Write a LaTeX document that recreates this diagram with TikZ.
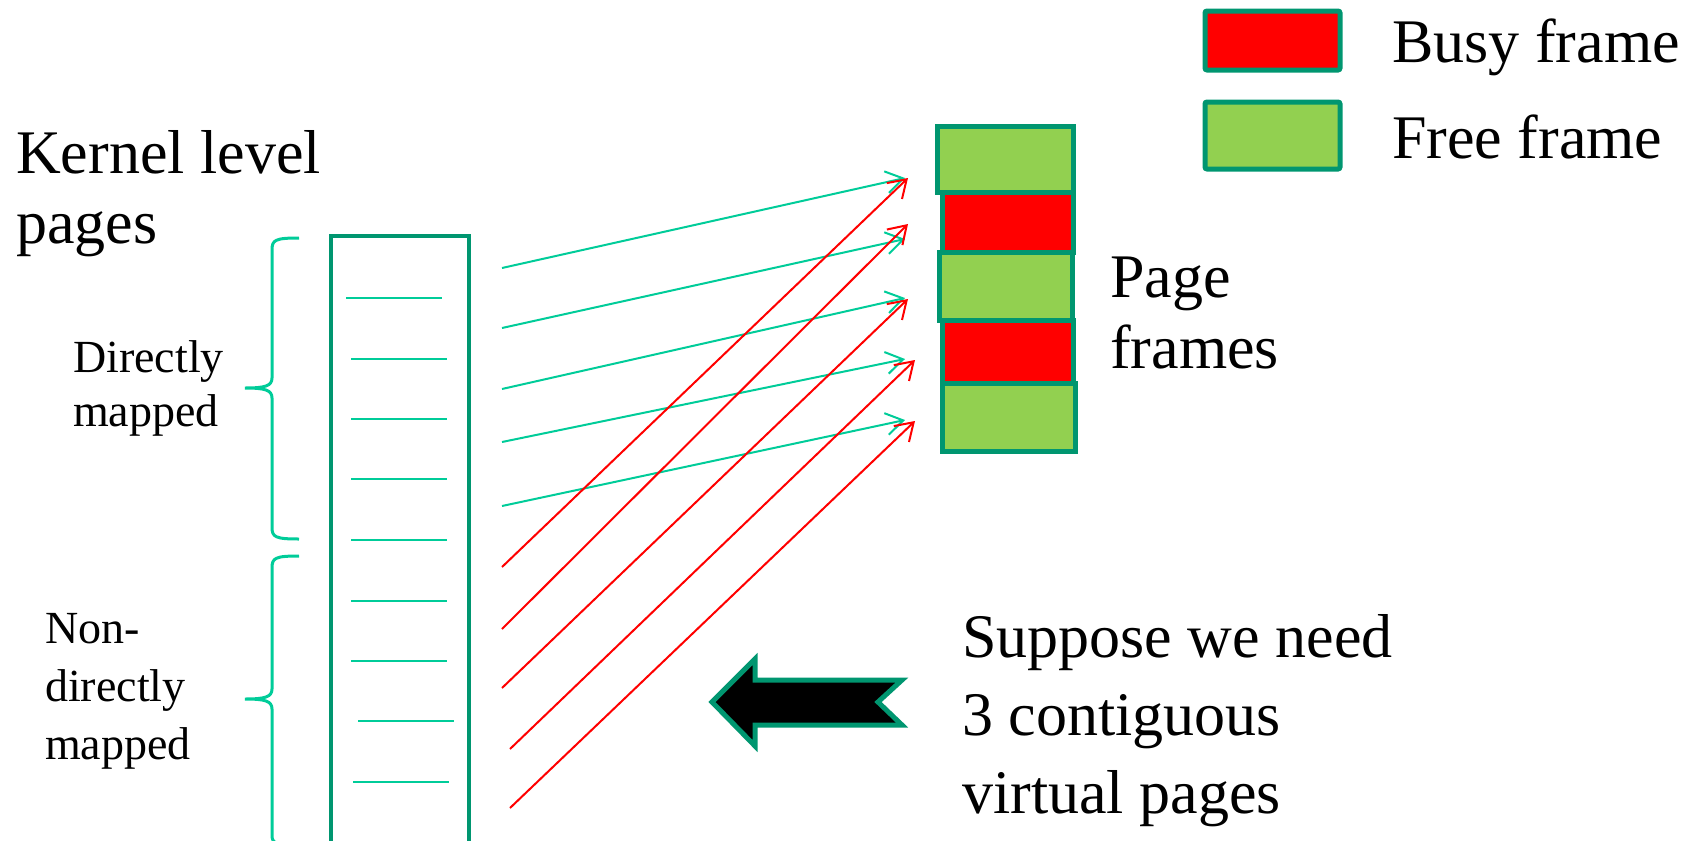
\documentclass[tikz,border=0pt]{standalone}
\usepackage{fontspec}
\setmainfont{Liberation Serif}
\usetikzlibrary{arrows.meta,positioning}
\definecolor{frameborder}{RGB}{0,150,112}
\definecolor{freegreen}{RGB}{146,208,80}
\definecolor{mapteal}{RGB}{0,204,153}
\tikzstyle{pframe} = [rectangle, draw=frameborder, line width=5pt, inner sep=0pt]
\tikzstyle{busy} = [pframe, fill=red]
\tikzstyle{free} = [pframe, fill=freegreen]
\tikzstyle{bigtext} = [anchor=base west, inner sep=0pt, align=left,
    font=\fontsize{62}{70}\selectfont]
\tikzstyle{smalltext} = [anchor=base west, inner sep=0pt, align=left,
    font=\fontsize{46}{58}\selectfont]
\tikzstyle{directmap} = [-{Straight Barb[length=17pt,width=22pt]}, mapteal,
    line width=2pt]
\tikzstyle{othermap} = [-{Straight Barb[length=17pt,width=22pt]}, red,
    line width=2pt]
\tikzstyle{brace} = [mapteal, line width=3pt]
\tikzstyle{slot} = [mapteal, line width=2pt]

\begin{document}
\begin{tikzpicture}[x=1pt, y=-1pt]
  \useasboundingbox (0,0) rectangle (1701,841);
  % Place nodes
  \node [free, minimum width=136pt, minimum height=66pt] (pf1) at (1005,159) {};
  \node [busy, minimum width=131pt, minimum height=60pt] (pf2) at (1007.5,222) {};
  \node [free, minimum width=133pt, minimum height=68pt] (pf3) at (1005.5,286) {};
  \node [busy, minimum width=131pt, minimum height=63pt] (pf4) at (1007.5,351.5) {};
  \node [free, minimum width=133pt, minimum height=68pt] (pf5) at (1008.5,417) {};
  \node [draw=frameborder, line width=4pt, minimum width=138pt,
  minimum height=624pt] (kpages) at (400,548) {};
  % legend
  \node [busy, rounded corners=2pt, minimum width=135pt, minimum height=59pt]
  (busykey) at (1272.5,40.5) {};
  \node [free, rounded corners=2pt, minimum width=135pt, minimum height=67pt]
  (freekey) at (1272.5,135.5) {};
  \node [bigtext] (busytext) at (1392,62) {Busy frame};
  \node [bigtext] (freetext) at (1392,158) {Free frame};
  % texts (anchored at the last line)
  \node [bigtext] (kernel) at (16,243) {Kernel level\\pages};
  \node [smalltext, font=\fontsize{46}{54}\selectfont] (dmtext) at (73,426)
  {Directly\\mapped};
  \node [smalltext] (ndmtext) at (45,759) {Non-\\directly\\mapped};
  \node [bigtext, font=\fontsize{62}{71}\selectfont] (frames) at (1110,368)
  {Page\\frames};
  \node [bigtext, font=\fontsize{62}{78}\selectfont] (suppose) at (962,813)
  {Suppose we need\\3 contiguous\\virtual pages};
  % Draw edges
  \foreach \y/\xa in {298/346, 359/351, 419/351, 479/351, 540/351, 601/351,
    661/351, 721/358, 782/353}
    \draw [slot] (\xa,\y) -- ++(96,0);
  \draw [brace] (299,238) .. controls (275,238) and (272,240) .. (272,250)
    -- (272,378) .. controls (272,386) and (265,388) .. (245,388)
    .. controls (265,388) and (272,390) .. (272,398)
    -- (272,527) .. controls (272,537) and (275,539) .. (299,539);
  \draw [brace] (299,556) .. controls (275,556) and (272,558) .. (272,568)
    -- (272,689) .. controls (272,697) and (265,699) .. (245,699)
    .. controls (265,699) and (272,701) .. (272,709)
    -- (272,835) .. controls (272,843) and (275,845) .. (299,845);
  \foreach \n/\ys/\ye in {1/268/178, 2/328/239, 3/389/298, 4/442/359, 5/506/420}
  {
    \coordinate (ds\n) at (502,\ys);
    \coordinate (de\n) at (905,\ye);
    \draw [directmap] (ds\n) -- (de\n);
  }
  \foreach \n/\xs/\ys/\xe/\ye in {1/502/567/908/178, 2/502/629/908/224,
    3/502/688/908/299, 4/510/749/915/360, 5/510/808/915/421}
  {
    \coordinate (os\n) at (\xs,\ys);
    \coordinate (oe\n) at (\xe,\ye);
    \draw [othermap] (os\n) -- (oe\n);
  }
  \draw [frameborder, fill=black, line width=5pt] (712,702) -- (755,659)
    -- (755,680) -- (902,680) -- (878,702) -- (902,725) -- (755,725)
    -- (755,746) -- cycle;
\end{tikzpicture}
\end{document}
